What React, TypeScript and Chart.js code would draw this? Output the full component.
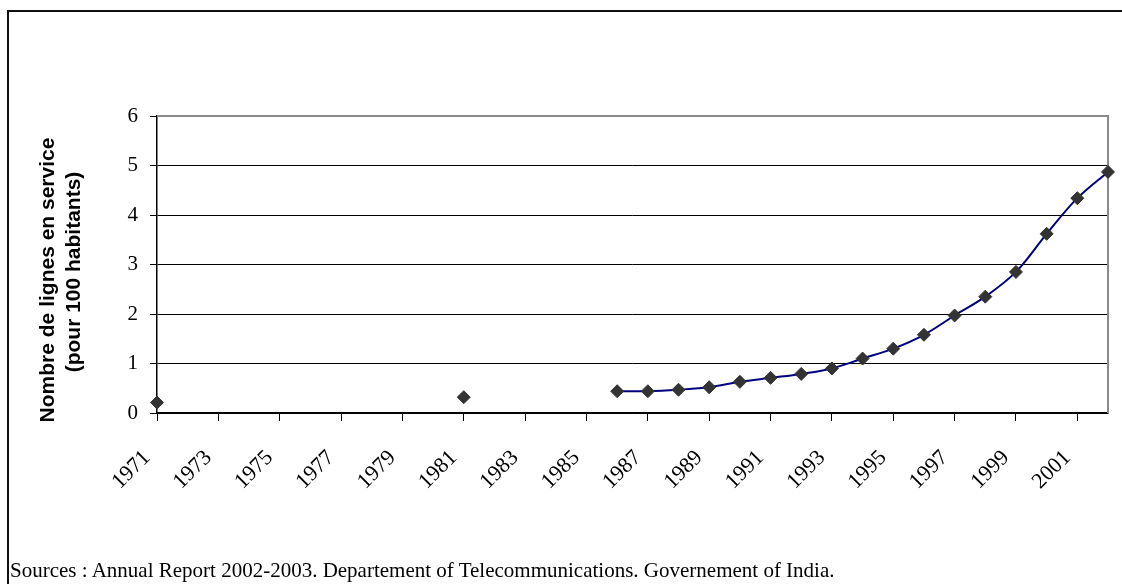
import React, { useEffect, useRef } from 'react';
import { Chart, registerables } from 'chart.js';

Chart.register(...registerables);

const years: string[] = [
  '1971', '1972', '1973', '1974', '1975', '1976', '1977', '1978', '1979', '1980',
  '1981', '1982', '1983', '1984', '1985', '1986', '1987', '1988', '1989', '1990',
  '1991', '1992', '1993', '1994', '1995', '1996', '1997', '1998', '1999', '2000',
  '2001', '2002',
];

const lines: (number | null)[] = [
  0.21, null, null, null, null, null, null, null, null, null,
  0.32, null, null, null, null, 0.44, 0.44, 0.47, 0.52, 0.63,
  0.71, 0.79, 0.90, 1.10, 1.30, 1.58, 1.97, 2.35, 2.85, 3.62,
  4.34, 4.87,
];

const yMin = 0;
const yMax = 6;
const yStep = 1;

const yTitle: string[] = ['Nombre de lignes en service', '(pour 100 habitants)'];
const sourceText =
  'Sources : Annual Report 2002-2003. Departement of Telecommunications. Governement of India.';

const plotBorder = {
  id: 'plotBorder',
  beforeDatasetsDraw(chart: any) {
    const { ctx, chartArea } = chart;
    ctx.save();
    ctx.strokeStyle = '#8a8a8a';
    ctx.lineWidth = 2;
    ctx.beginPath();
    ctx.moveTo(chartArea.left, chartArea.top);
    ctx.lineTo(chartArea.right, chartArea.top);
    ctx.lineTo(chartArea.right, chartArea.bottom);
    ctx.stroke();
    ctx.restore();
  },
};

const yTitlePlugin = {
  id: 'yTitlePlugin',
  afterDraw(chart: any) {
    const { ctx } = chart;
    ctx.save();
    ctx.fillStyle = '#000';
    ctx.font = 'bold 21px "Liberation Sans", Arial, sans-serif';
    ctx.textAlign = 'center';
    ctx.textBaseline = 'alphabetic';
    const pos = [
      { x: 54, y: 280 },
      { x: 80, y: 272 },
    ];
    yTitle.forEach((t, i) => {
      ctx.save();
      ctx.translate(pos[i].x, pos[i].y);
      ctx.rotate(-Math.PI / 2);
      ctx.fillText(t, 0, 0);
      ctx.restore();
    });
    ctx.restore();
  },
};

export default function App() {
  const canvasRef = useRef<HTMLCanvasElement | null>(null);

  useEffect(() => {
    if (!canvasRef.current) return;
    const serif = '"Liberation Serif", "Times New Roman", serif';
    const chart = new Chart(canvasRef.current, {
      type: 'line',
      data: {
        labels: years,
        datasets: [
          {
            data: lines,
            borderColor: '#000080',
            borderWidth: 2,
            tension: 0.35,
            spanGaps: false,
            pointStyle: 'rectRot',
            pointRadius: 6.5,
            pointHoverRadius: 6.5,
            pointBackgroundColor: '#333333',
            pointBorderColor: '#333333',
            pointBorderWidth: 1,
            fill: false,
          },
        ],
      },
      options: {
        animation: false,
        responsive: false,
        maintainAspectRatio: false,
        layout: { padding: { left: 20, top: 116, right: 14, bottom: 0 } },
        plugins: {
          legend: { display: false },
          tooltip: { enabled: false },
          title: { display: false },
        },
        scales: {
          x: {
            type: 'category',
            offset: false,
            afterFit: (scale: any) => {
              scale.height = 171;
              scale.paddingRight = 0;
              scale.paddingLeft = 0;
            },
            grid: {
              drawOnChartArea: false,
              drawTicks: true,
              tickLength: 8,
              tickColor: (ctx: any) => (ctx.index % 2 === 0 ? '#000' : 'rgba(0,0,0,0)'),
              tickWidth: 1,
            },
            border: { display: true, color: '#000', width: 1.5 },
            ticks: {
              autoSkip: false,
              minRotation: 45,
              maxRotation: 45,
              padding: 24,
              labelOffset: -10,
              color: '#000',
              font: { family: serif, size: 22 },
              callback: (_v: any, i: number) => (i % 2 === 0 ? years[i] : ''),
            },
          },
          y: {
            min: yMin,
            max: yMax,
            afterFit: (scale: any) => {
              scale.width = 137;
            },
            grid: {
              color: '#000',
              lineWidth: 1,
              drawTicks: true,
              tickLength: 7,
              tickColor: '#000',
            },
            border: { display: true, color: '#000', width: 1.5 },
            ticks: {
              stepSize: yStep,
              padding: 12,
              color: '#000',
              font: { family: serif, size: 21 },
            },
          },
        },
      },
      plugins: [plotBorder, yTitlePlugin],
    });
    return () => chart.destroy();
  }, []);

  return (
    <div
      style={{
        position: 'fixed',
        left: 0,
        top: 0,
        width: 1122,
        height: 584,
        overflow: 'hidden',
        background: '#fff',
      }}
    >
      <div
        style={{
          position: 'absolute',
          left: 7,
          top: 10,
          width: 1300,
          height: 800,
          borderTop: '2px solid #111',
          borderLeft: '2px solid #111',
        }}
      />
      <canvas
        ref={canvasRef}
        width={1122}
        height={584}
        style={{ position: 'absolute', left: 0, top: 0, width: 1122, height: 584 }}
      />
      <div
        style={{
          position: 'absolute',
          left: 10,
          top: 560,
          fontFamily: '"Liberation Serif", "Times New Roman", serif',
          fontSize: 21,
          lineHeight: 1,
          color: '#000',
          whiteSpace: 'nowrap',
        }}
      >
        {sourceText}
      </div>
    </div>
  );
}
